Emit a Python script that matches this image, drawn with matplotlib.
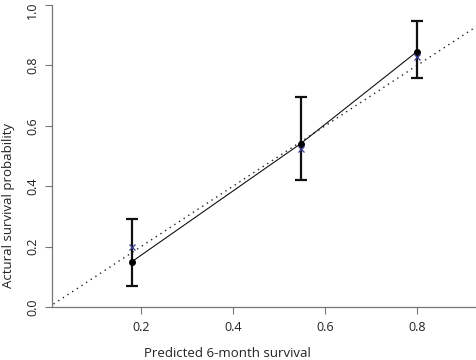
import matplotlib
matplotlib.use("Agg")
import matplotlib.pyplot as plt
import matplotlib.transforms as mtransforms

predicted = [0.18, 0.547, 0.80]
observed = [0.150, 0.541, 0.846]
ideal_marks = [0.200, 0.523, 0.828]
ci_low = [0.070, 0.420, 0.757]
ci_high = [0.292, 0.695, 0.948]
diag = [0.0, 1.0]
xticks = [0.2, 0.4, 0.6, 0.8]
yticks = [0.0, 0.2, 0.4, 0.6, 0.8, 1.0]

plt.rcParams['font.family'] = ['Open Sans', 'DejaVu Sans']
fig = plt.figure(figsize=(4.76, 3.6), dpi=100)
ax = fig.add_axes([0.109, 0.147, 0.891, 0.839])

ax.plot(diag, diag, linestyle=(0, (1, 3)), color='#222222', linewidth=1.0)
ax.plot(predicted, observed, color='#111111', linewidth=0.8)
yerr = [[o - l for o, l in zip(observed, ci_low)], [h - o for o, h in zip(observed, ci_high)]]
ax.errorbar(predicted, observed, yerr=yerr, fmt='none', ecolor='#111111',
            elinewidth=1.6, capsize=4, capthick=1.6)
ax.plot(predicted, observed, 'o', color='black', markersize=4)
ax.plot(predicted, ideal_marks, 'x', color='#3a3a8c', markersize=4, markeredgewidth=0.9)

ax.set_xlim(0.0065, 0.928)
ax.set_ylim(0, 1)
ax.set_xticks(xticks)
ax.set_yticks(yticks)
ax.set_xticklabels([f"{t:.1f}" for t in xticks])
ax.set_yticklabels([f"{t:.1f}" for t in yticks], rotation=90, va='center')
for s in ['top', 'right']:
    ax.spines[s].set_visible(False)
for s in ['left', 'bottom']:
    ax.spines[s].set_color('#777777')
    ax.spines[s].set_linewidth(0.9)
ax.tick_params(direction='out', length=5, color='#777777', labelsize=9, labelcolor='#222222')
ax.tick_params(axis='x', pad=5)
ax.tick_params(axis='y', pad=4)

top_label = ax.get_yticklabels()[-1]
top_label.set_transform(top_label.get_transform() +
                        mtransforms.ScaledTranslation(0, -5 / 100, fig.dpi_scale_trans))

fig.text(0.477, 0.019, "Predicted 6-month survival", ha='center', va='center', fontsize=9.5, color='#222222')
fig.text(0.018, 0.43, "Actural survival probability", ha='center', va='center', rotation=90,
         fontsize=9.5, color='#222222')

fig.savefig("out.png", dpi=100)
